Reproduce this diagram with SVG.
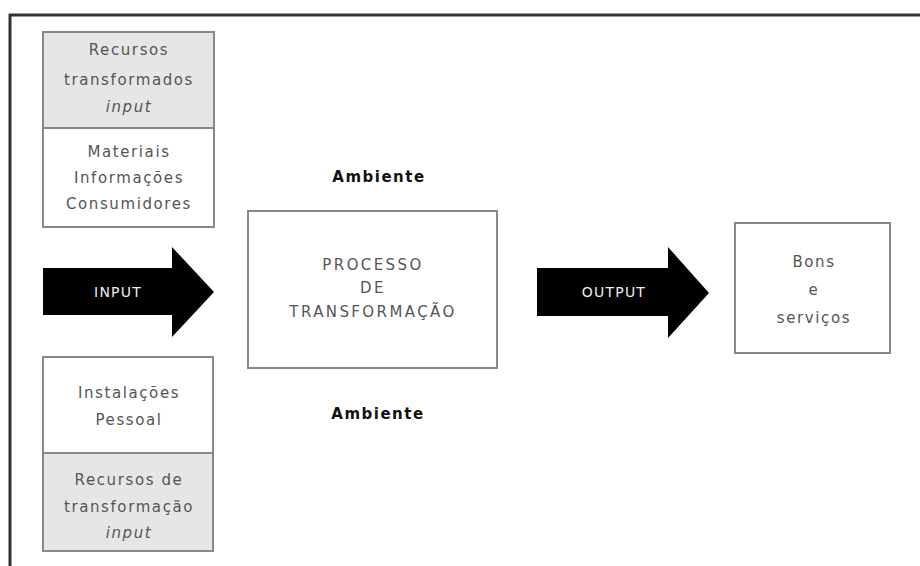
<svg xmlns="http://www.w3.org/2000/svg" width="920" height="566" viewBox="0 0 920 566">
<style>
.t{font-family:"DejaVu Sans",Verdana,sans-serif;font-size:15px;fill:#555;text-anchor:middle;dominant-baseline:central;letter-spacing:1.6px}
.u{letter-spacing:2.4px}
.it{font-style:italic}
.amb{font-family:"DejaVu Sans",Verdana,sans-serif;font-size:15px;font-weight:bold;fill:#111;text-anchor:middle;dominant-baseline:central;letter-spacing:1.5px}
.w{font-family:"DejaVu Sans",Verdana,sans-serif;font-size:14px;fill:#eee;text-anchor:middle;dominant-baseline:central;letter-spacing:1.2px}
.box{fill:#fff;stroke:#888;stroke-width:2}
.gray{fill:#e6e6e6;stroke:none}
.arrow{fill:#000}
</style>
<rect width="920" height="566" fill="#fff"/>
<g id="frame">
<line x1="9" y1="15" x2="920" y2="15" stroke="#333" stroke-width="3"/>
<line x1="10" y1="14" x2="10" y2="566" stroke="#333" stroke-width="3"/>
</g>
<g id="recursos-transformados">
<rect class="box" x="43" y="32" width="171" height="195"/>
<rect class="gray" x="44" y="33" width="169" height="95"/>
<line x1="43" y1="128" x2="214" y2="128" stroke="#888" stroke-width="2"/>
<text class="t" x="129" y="50">Recursos</text>
<text class="t" x="129" y="80">transformados</text>
<text class="t it" x="129" y="107">input</text>
<text class="t" x="129" y="152">Materiais</text>
<text class="t" x="129" y="178">Informações</text>
<text class="t" x="129" y="204">Consumidores</text>
</g>
<g id="recursos-transformacao">
<rect class="box" x="43" y="357" width="170" height="194"/>
<rect class="gray" x="44" y="453" width="168" height="97"/>
<line x1="43" y1="453" x2="213" y2="453" stroke="#888" stroke-width="2"/>
<text class="t" x="129" y="393">Instalações</text>
<text class="t" x="129" y="420">Pessoal</text>
<text class="t" x="129" y="480">Recursos de</text>
<text class="t" x="129" y="507">transformação</text>
<text class="t it" x="129" y="533">input</text>
</g>
<g id="processo">
<rect class="box" x="248" y="211" width="249" height="157"/>
<text class="t u" x="373" y="265">PROCESSO</text>
<text class="t u" x="373" y="288">DE</text>
<text class="t u" x="373" y="312">TRANSFORMAÇÃO</text>
</g>
<g id="ambiente-top"><text class="amb" x="379" y="177">Ambiente</text></g>
<g id="ambiente-bottom"><text class="amb" x="378" y="414">Ambiente</text></g>
<g id="bens">
<rect class="box" x="735" y="223" width="155" height="130"/>
<text class="t" x="814" y="262">Bons</text>
<text class="t" x="814" y="290">e</text>
<text class="t" x="814" y="318">serviços</text>
</g>
<g id="connectors">
<g id="input-arrow">
<polygon class="arrow" points="43,268 172,268 172,247 214,292 172,337 172,315 43,315"/>
<text class="w" x="118" y="292">INPUT</text>
</g>
<g id="output-arrow">
<polygon class="arrow" points="537,268 668,268 668,247 709,293 668,338 668,316 537,316"/>
<text class="w" x="614" y="292">OUTPUT</text>
</g>
</g>
</svg>
